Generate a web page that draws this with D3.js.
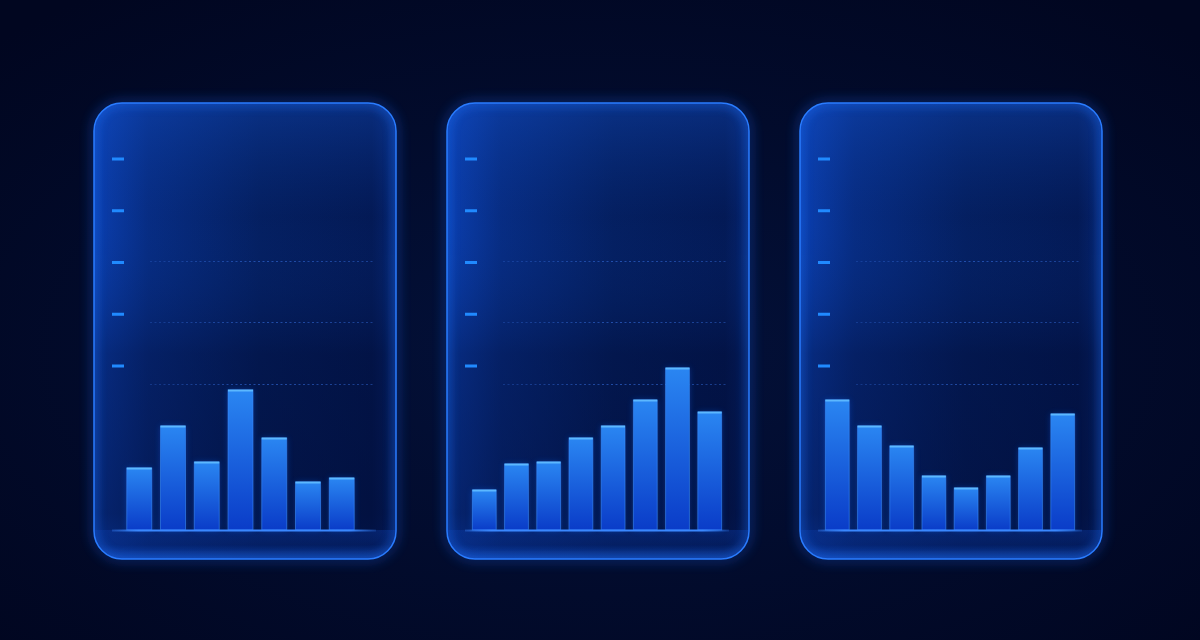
<!DOCTYPE html>
<html><head><meta charset="utf-8">
<script src="https://cdn.jsdelivr.net/npm/d3@7"></script>
<style>html,body{margin:0;padding:0;background:#020a26;overflow:hidden}svg{display:block}</style>
</head><body><svg id="c" width="1200" height="640"></svg>
<script>
// ---- data ----
const panelNames = ["Panel A", "Panel B", "Panel C"];
const categoriesA = ["1", "2", "3", "4", "5", "6", "7"];
const valuesA = [31, 52, 34, 70, 46, 24, 26];
const categoriesB = ["1", "2", "3", "4", "5", "6", "7", "8"];
const valuesB = [20, 33, 34, 46, 52, 65, 81, 59];
const categoriesC = ["1", "2", "3", "4", "5", "6", "7", "8"];
const valuesC = [65, 52, 42, 27, 21, 27, 41, 58];
const tickLevels = [0, 1, 2, 3, 4];
const gridLevels = [73, 104, 134.5];

// ---- layout ----
const W = 1200, H = 640;
const panelW = 302, panelH = 456, panelY = 103, panelR = 28;
const panelX = d3.scaleOrdinal().domain(panelNames).range([94, 447, 800]);
const barRanges = [[24, 269], [17, 283], [17, 283]];
const y = d3.scaleLinear().domain([0, 100]).range([530, 330]);
const tickY = d3.scaleLinear().domain([0, 4]).range([366, 159]);

const panels = [
  {name: panelNames[0], cats: categoriesA, vals: valuesA, range: barRanges[0]},
  {name: panelNames[1], cats: categoriesB, vals: valuesB, range: barRanges[1]},
  {name: panelNames[2], cats: categoriesC, vals: valuesC, range: barRanges[2]}
];

const svg = d3.select("#c");
const defs = svg.append("defs");

// background
const bg = defs.append("radialGradient").attr("id", "bg").attr("cx", "50%").attr("cy", "55%").attr("r", "70%");
bg.append("stop").attr("offset", "0%").attr("stop-color", "#03113a");
bg.append("stop").attr("offset", "100%").attr("stop-color", "#010620");
svg.append("rect").attr("width", W).attr("height", H).attr("fill", "url(#bg)");

// panel gradients
const pBase = defs.append("linearGradient").attr("id", "pBase").attr("x1", 0).attr("y1", 0).attr("x2", 1).attr("y2", 0);
pBase.append("stop").attr("offset", "0%").attr("stop-color", "#0b3fb0");
pBase.append("stop").attr("offset", "18%").attr("stop-color", "#072c82");
pBase.append("stop").attr("offset", "55%").attr("stop-color", "#041e5e");
pBase.append("stop").attr("offset", "92%").attr("stop-color", "#031852");
pBase.append("stop").attr("offset", "100%").attr("stop-color", "#06236c");

const pTop = defs.append("linearGradient").attr("id", "pTop").attr("x1", 0).attr("y1", 0).attr("x2", 0).attr("y2", 1);
pTop.append("stop").attr("offset", "0%").attr("stop-color", "#1555d0").attr("stop-opacity", 0.35);
pTop.append("stop").attr("offset", "25%").attr("stop-color", "#0a3a9a").attr("stop-opacity", 0.05);
pTop.append("stop").attr("offset", "55%").attr("stop-color", "#010a30").attr("stop-opacity", 0.35);
pTop.append("stop").attr("offset", "90%").attr("stop-color", "#010a30").attr("stop-opacity", 0.5);
pTop.append("stop").attr("offset", "100%").attr("stop-color", "#010a30").attr("stop-opacity", 0.3);

const pBottom = defs.append("linearGradient").attr("id", "pBottom").attr("x1", 0).attr("y1", 0).attr("x2", 0).attr("y2", 1);
pBottom.append("stop").attr("offset", "0%").attr("stop-color", "#0a3aa8").attr("stop-opacity", 0.4);
pBottom.append("stop").attr("offset", "50%").attr("stop-color", "#0a3aa8").attr("stop-opacity", 0.25);
pBottom.append("stop").attr("offset", "100%").attr("stop-color", "#1a5ee0").attr("stop-opacity", 0.5);

const barGrad = defs.append("linearGradient").attr("id", "barGrad").attr("x1", 0).attr("y1", 0).attr("x2", 0).attr("y2", 1);
barGrad.append("stop").attr("offset", "0%").attr("stop-color", "#2a86f2");
barGrad.append("stop").attr("offset", "100%").attr("stop-color", "#0a3cc8");

const baseGrad = defs.append("linearGradient").attr("id", "baseGrad").attr("gradientUnits", "userSpaceOnUse")
  .attr("x1", 18).attr("x2", 282).attr("y1", 0).attr("y2", 0);
baseGrad.append("stop").attr("offset", "0%").attr("stop-color", "#3a88ff").attr("stop-opacity", 0.3);
baseGrad.append("stop").attr("offset", "10%").attr("stop-color", "#3a88ff").attr("stop-opacity", 1);
baseGrad.append("stop").attr("offset", "90%").attr("stop-color", "#3a88ff").attr("stop-opacity", 1);
baseGrad.append("stop").attr("offset", "100%").attr("stop-color", "#3a88ff").attr("stop-opacity", 0.2);

const gridGrad = defs.append("linearGradient").attr("id", "gridGrad").attr("gradientUnits", "userSpaceOnUse")
  .attr("x1", 56).attr("x2", 281).attr("y1", 0).attr("y2", 0);
gridGrad.append("stop").attr("offset", "0%").attr("stop-color", "#2d62cc").attr("stop-opacity", 0.35);
gridGrad.append("stop").attr("offset", "50%").attr("stop-color", "#2d62cc").attr("stop-opacity", 0.7);
gridGrad.append("stop").attr("offset", "100%").attr("stop-color", "#2d62cc").attr("stop-opacity", 0.5);

const glow = defs.append("filter").attr("id", "glow").attr("x", "-20%").attr("y", "-20%").attr("width", "140%").attr("height", "140%");
glow.append("feGaussianBlur").attr("stdDeviation", 6);
const glowS = defs.append("filter").attr("id", "glowS").attr("x", "-50%").attr("y", "-50%").attr("width", "200%").attr("height", "200%");
glowS.append("feGaussianBlur").attr("stdDeviation", 3);
const inner = defs.append("filter").attr("id", "inner").attr("x", "-10%").attr("y", "-10%").attr("width", "120%").attr("height", "120%");
inner.append("feGaussianBlur").attr("stdDeviation", 5);

panels.forEach((p, i) => {
  const x0 = panelX(p.name);
  const g = svg.append("g").attr("transform", `translate(${x0},0)`);
  const clipId = "clip" + i;
  defs.append("clipPath").attr("id", clipId)
    .append("rect").attr("x", 0).attr("y", panelY).attr("width", panelW).attr("height", panelH).attr("rx", panelR);

  // outer glow
  g.append("rect").attr("x", 0).attr("y", panelY).attr("width", panelW).attr("height", panelH).attr("rx", panelR)
    .attr("fill", "none").attr("stroke", "#1c6cff").attr("stroke-width", 5).attr("opacity", 0.45).attr("filter", "url(#glow)");

  const inside = g.append("g").attr("clip-path", `url(#${clipId})`);
  inside.append("rect").attr("x", 0).attr("y", panelY).attr("width", panelW).attr("height", panelH).attr("fill", "url(#pBase)");
  inside.append("rect").attr("x", 0).attr("y", panelY).attr("width", panelW).attr("height", panelH).attr("fill", "url(#pTop)");
  // bottom reflection band
  inside.append("rect").attr("x", 0).attr("y", y(0)).attr("width", panelW).attr("height", panelY + panelH - y(0)).attr("fill", "url(#pBottom)");
  // inner edge glow
  inside.append("rect").attr("x", 0).attr("y", panelY).attr("width", panelW).attr("height", panelH).attr("rx", panelR)
    .attr("fill", "none").attr("stroke", "#1f6cf0").attr("stroke-width", 8).attr("opacity", 0.45).attr("filter", "url(#inner)");

  // border
  g.append("rect").attr("x", 0).attr("y", panelY).attr("width", panelW).attr("height", panelH).attr("rx", panelR)
    .attr("fill", "none").attr("stroke", "#2a7cff").attr("stroke-width", 1.5);

  // tick marks
  g.selectAll(".tk").data(tickLevels).join("rect").attr("class", "tk")
    .attr("x", 18).attr("y", d => tickY(d) - 1.5).attr("width", 12).attr("height", 3)
    .attr("fill", "#208aff");

  // grid lines
  g.selectAll(".gl").data(gridLevels).join("line").attr("class", "gl")
    .attr("x1", 56).attr("x2", 281).attr("y1", d => y(d) + 0.5).attr("y2", d => y(d) + 0.5)
    .attr("stroke", "url(#gridGrad)").attr("stroke-width", 1).attr("stroke-dasharray", "2,2.5");

  const x = d3.scaleBand().domain(p.cats).range(p.range).padding(0.26);
  const data = p.cats.map((c, k) => ({c, v: p.vals[k]}));

  // bar glow
  g.selectAll(".bglow").data(data).join("rect").attr("class", "bglow")
    .attr("x", d => x(d.c)).attr("y", d => y(d.v)).attr("width", x.bandwidth()).attr("height", d => y(0) - y(d.v))
    .attr("fill", "#1466ff").attr("opacity", 0.35).attr("filter", "url(#glowS)");

  // bars
  g.selectAll(".bar").data(data).join("rect").attr("class", "bar")
    .attr("x", d => x(d.c)).attr("y", d => y(d.v)).attr("width", x.bandwidth()).attr("height", d => y(0) - y(d.v))
    .attr("fill", "url(#barGrad)").attr("stroke", "#3d8fff").attr("stroke-opacity", 0.55).attr("stroke-width", 1);

  // top caps
  g.selectAll(".cap").data(data).join("rect").attr("class", "cap")
    .attr("x", d => x(d.c)).attr("y", d => y(d.v) - 0.5).attr("width", x.bandwidth()).attr("height", 2)
    .attr("fill", "#5cb8ff");

  // baseline
  g.append("line").attr("x1", 18).attr("x2", 282).attr("y1", y(0) + 0.5).attr("y2", y(0) + 0.5)
    .attr("stroke", "url(#baseGrad)").attr("stroke-width", 2);
});
</script>
</body></html>
